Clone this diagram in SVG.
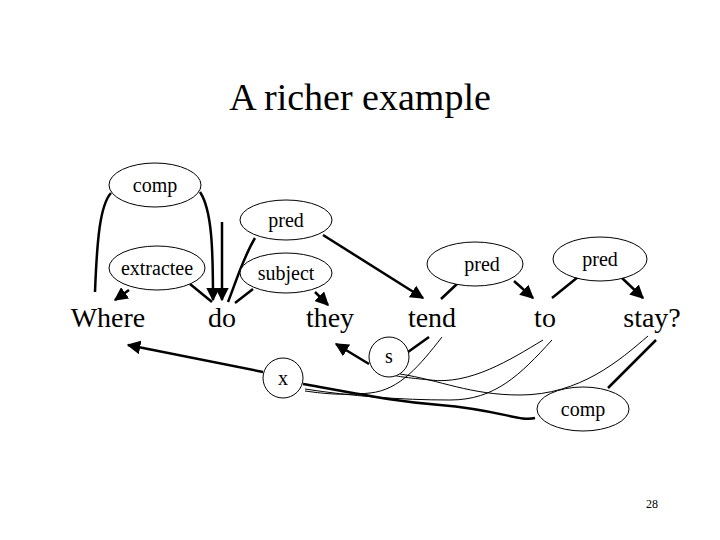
<svg xmlns="http://www.w3.org/2000/svg" width="720" height="540" viewBox="0 0 720 540" font-family="'Liberation Serif', 'DejaVu Serif', serif">
<style>
.n{fill:#fff;stroke:#000;stroke-width:1}
.l{font-size:20px;text-anchor:middle;font-family:'Liberation Serif',serif}
.w{font-size:28px;text-anchor:middle;font-family:'Liberation Serif',serif}
.e{fill:none;stroke:#000;stroke-width:2.5}
.t{fill:none;stroke:#000;stroke-width:1}
</style>
<defs><marker id="a" viewBox="0 0 10 10" refX="9" refY="5" markerWidth="5.5" markerHeight="5.5" orient="auto"><path d="M0,0L10,5L0,10z"/></marker></defs>
<rect width="720" height="540" fill="#fff"/>
<text x="360" y="110" font-size="38" text-anchor="middle" font-family="'Liberation Serif',serif">A richer example</text>
<g id="edges">
<path class="e" d="M95,292 C97,240 100,205 111,193"/>
<path class="e" d="M200,192 C212,210 213,250 213,300" marker-end="url(#a)"/>
<path class="e" d="M222,222 L222,300" marker-end="url(#a)"/>
<path class="e" d="M129,290 L115,300" marker-end="url(#a)"/>
<path class="e" d="M190,284 L212,302"/>
<path class="e" d="M255,238 C242,260 235,285 228,302"/>
<path class="e" d="M323,235 L423,298" marker-end="url(#a)"/>
<path class="e" d="M253,289 L235,303"/>
<path class="e" d="M315,292 L328,305" marker-end="url(#a)"/>
<path class="e" d="M458,283 L441,299"/>
<path class="e" d="M514,281 L533,298" marker-end="url(#a)"/>
<path class="e" d="M578,277 L552,298"/>
<path class="e" d="M622,278 L643,298" marker-end="url(#a)"/>
<path class="e" d="M369,364 L336,344" marker-end="url(#a)"/>
<path class="e" d="M408,352 L429,337"/>
<path class="e" d="M263,372 L128,345" marker-end="url(#a)"/>
<path class="e" d="M303,384 C380,398 400,402 440,405 C500,410 520,422 535,418"/>
<path class="e" d="M608,388 L656,340"/>
<path class="t" d="M442,337 C420,365 400,390 370,393 C340,396 320,393 305,391"/>
<path class="t" d="M400,374 C440,380 470,395 520,395 C580,395 620,360 648,336"/>
<path class="t" d="M543,340 C510,360 470,385 430,380 C400,377 395,376 390,374"/>
<path class="t" d="M552,340 C520,375 495,400 450,400 C400,400 350,396 305,389"/>
</g>
<g id="n-comp"><ellipse class="n" cx="155" cy="185" rx="46" ry="22"/><text class="l" x="155" y="192">comp</text></g>
<g id="n-pred1"><ellipse class="n" cx="286" cy="220" rx="46" ry="20"/><text class="l" x="286" y="227">pred</text></g>
<g id="n-extractee"><ellipse class="n" cx="157" cy="268" rx="48" ry="22"/><text class="l" x="157" y="275">extractee</text></g>
<g id="n-subject"><ellipse class="n" cx="286" cy="273" rx="46" ry="20"/><text class="l" x="286" y="280">subject</text></g>
<g id="n-pred2"><ellipse class="n" cx="475" cy="264" rx="48" ry="22"/><text class="l" x="482" y="271">pred</text></g>
<g id="n-pred3"><ellipse class="n" cx="600" cy="259" rx="47" ry="22"/><text class="l" x="600" y="266">pred</text></g>
<g id="n-s"><circle class="n" cx="389" cy="357" r="20"/><text class="l" x="389" y="363">s</text></g>
<g id="n-x"><circle class="n" cx="283" cy="378" r="20"/><text class="l" x="283" y="385">x</text></g>
<g id="n-comp2"><ellipse class="n" cx="583" cy="409" rx="46" ry="22"/><text class="l" x="583" y="416">comp</text></g>
<g id="w-where"><text class="w" x="108" y="327">Where</text></g>
<g id="w-do"><text class="w" x="222" y="327">do</text></g>
<g id="w-they"><text class="w" x="330" y="327">they</text></g>
<g id="w-tend"><text class="w" x="432" y="327">tend</text></g>
<g id="w-to"><text class="w" x="545" y="327">to</text></g>
<g id="w-stay"><text class="w" x="652" y="327">stay?</text></g>
<text x="652" y="508" font-size="12" text-anchor="middle" font-family="'Liberation Serif',serif">28</text>
</svg>
